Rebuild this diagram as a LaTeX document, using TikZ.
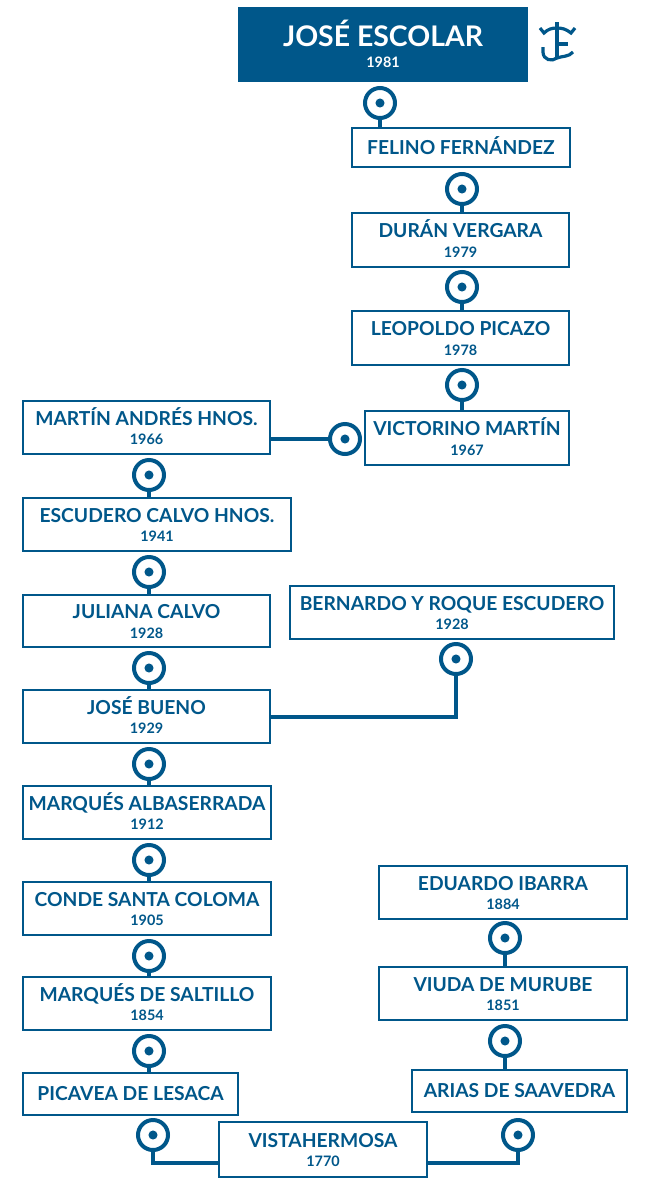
\documentclass[tikz,border=0pt]{standalone}
\usepackage{fontspec}
\setmainfont{Lato}
\definecolor{azul}{HTML}{00578A}
\newcommand{\titlefont}{\fontsize{14.45}{17}\bfseries\selectfont}
\newcommand{\yearfont}{\fontsize{10.8}{12}\bfseries\selectfont}
\newcommand{\bx}[7]{%
  \node[boxstyle,minimum width={(#4-#2)*0.75pt},minimum height={(#5-#3)*0.75pt}] (#1) at ({(#2+#4)/2},{-(#3+#5)/2})
  {\vbox{\offinterlineskip
    \ifx&#7&%
      \hbox to 0pt{\hss\rule{0pt}{11pt}\smash{\titlefont #6}\hss}%
    \else
      \hbox to 0pt{\hss\rule{0pt}{12.3pt}\smash{\titlefont #6}\hss}%
      \hbox to 0pt{\hss\rule{0pt}{14.4pt}\smash{\yearfont #7}\hss}%
    \fi
    \kern1pt}};}
\tikzset{
  x=0.75pt,y=0.75pt,
  boxstyle/.style={draw=azul,line width=1.5pt,fill=white,text=azul,inner sep=0pt,outer sep=0pt},
  pinstyle/.style={circle,draw=azul,line width=3pt,fill=white,minimum size=22.5pt,inner sep=0pt,outer sep=0pt,
    path picture={\fill[azul] (path picture bounding box.center) circle (3.4pt);}},
  link/.style={draw=azul,line width=3pt},
  logoline/.style={draw=azul,line width=2.4pt}
}
\begin{document}
\begin{tikzpicture}
\useasboundingbox (0,0) rectangle (656,-1179);
% top box
\node[fill=azul,text=white,inner sep=0pt,minimum width=217.5pt,minimum height=56.25pt] (escolar) at (383,-44.5)
  {\vbox{\offinterlineskip
    \hbox to 0pt{\hss\rule{0pt}{18.75pt}\smash{\fontsize{21.3}{24}\bfseries\selectfont JOSÉ ESCOLAR}\hss}%
    \hbox to 0pt{\hss\rule{0pt}{15.4pt}\smash{\yearfont 1981}\hss}}};
\bx{felino}{352}{128}{570}{167}{FELINO FERNÁNDEZ}{}
\bx{duran}{352}{213}{569}{267}{DURÁN VERGARA}{1979}
\bx{leopoldo}{352}{311}{569}{365}{LEOPOLDO PICAZO}{1978}
\bx{victorino}{365}{411}{569}{465}{VICTORINO MARTÍN}{1967}
\bx{martin}{23}{401}{270}{454}{MARTÍN ANDRÉS HNOS.}{1966}
\bx{escudero}{23}{498}{291}{551}{ESCUDERO CALVO HNOS.}{1941}
\bx{juliana}{23}{595}{270}{647}{JULIANA CALVO}{1928}
\bx{bernardo}{290}{586}{614}{639}{BERNARDO Y ROQUE ESCUDERO}{1928}
\bx{bueno}{23}{690}{270}{743}{JOSÉ BUENO}{1929}
\bx{albaserrada}{23}{786}{271}{839}{MARQUÉS ALBASERRADA}{1912}
\bx{conde}{23}{882}{271}{935}{CONDE SANTA COLOMA}{1905}
\bx{saltillo}{23}{977}{271}{1030}{MARQUÉS DE SALTILLO}{1854}
\bx{picavea}{23}{1073}{238}{1115}{PICAVEA DE LESACA}{}
\bx{vista}{219}{1122}{427}{1177}{VISTAHERMOSA}{1770}
\bx{arias}{412}{1070}{627}{1112}{ARIAS DE SAAVEDRA}{}
\bx{viuda}{379}{967}{627}{1020}{VIUDA DE MURUBE}{1851}
\bx{ibarra}{379}{866}{627}{919}{EDUARDO IBARRA}{1884}
% ring nodes
\node[pinstyle] (p1) at (380,-103) {};
\node[pinstyle] (p2) at (462,-189) {};
\node[pinstyle] (p3) at (462,-287) {};
\node[pinstyle] (p4) at (462,-385) {};
\node[pinstyle] (p5) at (345,-439) {};
\node[pinstyle] (p6) at (149,-475) {};
\node[pinstyle] (p7) at (149,-572) {};
\node[pinstyle] (p8) at (149,-668) {};
\node[pinstyle] (p9) at (456,-659) {};
\node[pinstyle] (p10) at (149,-764) {};
\node[pinstyle] (p11) at (149,-860) {};
\node[pinstyle] (p12) at (149,-956) {};
\node[pinstyle] (p13) at (149,-1051) {};
\node[pinstyle] (p14) at (153,-1135) {};
\node[pinstyle] (p15) at (518,-1135) {};
\node[pinstyle] (p16) at (505,-938) {};
\node[pinstyle] (p17) at (505,-1041) {};
% free corner levels of the two bottom links
\coordinate (vl) at (219,-1163);
\coordinate (vr) at (427,-1163);
% connectors
\draw[link] (p1.south) -- (p1.south |- felino.north);
\draw[link] (p2.south) -- (p2.south |- duran.north);
\draw[link] (p3.south) -- (p3.south |- leopoldo.north);
\draw[link] (p4.south) -- (p4.south |- victorino.north);
\draw[link] (martin.east |- p5.west) -- (p5.west);
\draw[link] (p6.south) -- (p6.south |- escudero.north);
\draw[link] (p7.south) -- (p7.south |- juliana.north);
\draw[link] (p8.south) -- (p8.south |- bueno.north);
\draw[link] (p10.south) -- (p10.south |- albaserrada.north);
\draw[link] (p11.south) -- (p11.south |- conde.north);
\draw[link] (p12.south) -- (p12.south |- saltillo.north);
\draw[link] (p13.south) -- (p13.south |- picavea.north);
\draw[link] (p16.south) -- (p16.south |- viuda.north);
\draw[link] (p17.south) -- (p17.south |- arias.north);
\draw[link] (p9.south) |- (bueno.east);
\draw[link] (p14.south) |- (vl);
\draw[link] (p15.south) |- (vr);
% brand
\draw[logoline] (557,-22) -- (557,-58);
\draw[logoline] (540,-28) -- (544,-33) .. controls (548,-29) and (552,-28) .. (557,-28) .. controls (562,-28) and (566,-29) .. (571,-33) -- (575,-28);
\draw[logoline] (543,-47) -- (543,-52) .. controls (543,-60) and (552,-62) .. (557,-58) .. controls (562,-56) and (569,-57) .. (573,-52);
\draw[logoline] (557,-44) -- (568,-44);
\end{tikzpicture}
\end{document}
